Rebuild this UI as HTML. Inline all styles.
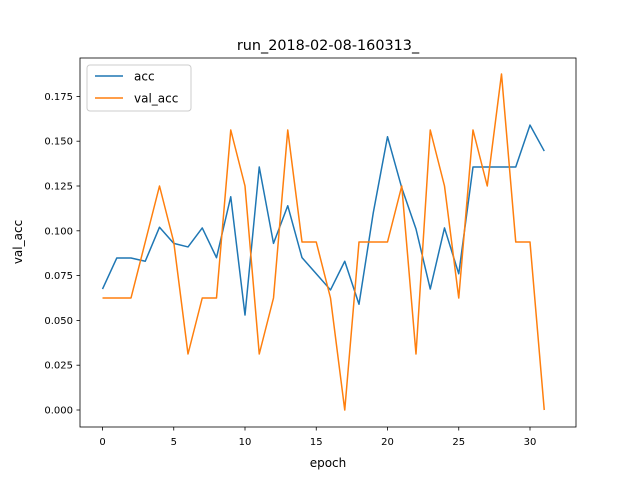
<!DOCTYPE html>
<html><head><meta charset="utf-8"><style>
body{margin:0;background:#fff;}
svg text{font-family:"DejaVu Sans","Liberation Sans",sans-serif;fill:#000;}
</style></head><body>
<svg id="chart" width="640" height="480" xmlns="http://www.w3.org/2000/svg">
<rect width="640" height="480" fill="#fff"/>
<text x="328" y="50" font-size="14.4" text-anchor="middle">run_2018-02-08-160313_</text>
<g id="plot"></g>
<rect x="80" y="58" width="496" height="369" fill="none" stroke="#000" stroke-width="0.8"/>
<text x="328" y="467" font-size="12" text-anchor="middle">epoch</text>
<text x="0" y="0" font-size="12" text-anchor="middle" transform="translate(22,242) rotate(-90)">val_acc</text>
<g>
<rect x="87" y="65" width="104" height="46" rx="3" fill="#fff" fill-opacity="0.8" stroke="#ccc" stroke-width="1"/>
<line x1="95" y1="76" x2="123" y2="76" stroke="#1f77b4" stroke-width="1.5"/>
<text x="134" y="80.5" font-size="12">acc</text>
<line x1="95" y1="98" x2="123" y2="98" stroke="#ff7f0e" stroke-width="1.5"/>
<text x="134" y="102.5" font-size="12">val_acc</text>
</g>
</svg>
<script>
const epochs=[];for(let i=0;i<32;i++)epochs.push(i);
const accValues=[0.0675,0.0848,0.0848,0.083,0.102,0.093,0.091,0.1016,0.085,0.119,0.053,0.1356,0.093,0.114,0.085,0.076,0.067,0.083,0.059,0.11,0.1525,0.124,0.101,0.0675,0.1016,0.076,0.1356,0.1356,0.1356,0.1356,0.159,0.1445];
const valAccValues=[0.0625,0.0625,0.0625,0.09375,0.125,0.09375,0.03125,0.0625,0.0625,0.15625,0.125,0.03125,0.0625,0.15625,0.09375,0.09375,0.0625,0,0.09375,0.09375,0.09375,0.125,0.03125,0.15625,0.125,0.0625,0.15625,0.125,0.1875,0.09375,0.09375,0];
const xTicks=[0,5,10,15,20,25,30];
const yTicks=[0,0.025,0.05,0.075,0.1,0.125,0.15,0.175];
const yTickLabels=["0.000","0.025","0.050","0.075","0.100","0.125","0.150","0.175"];
const NS="http://www.w3.org/2000/svg";
const xs=v=>102.5+v*14.25;
const ys=v=>410-v*1792;
const g=document.getElementById('plot');
function mk(t,a){const e=document.createElementNS(NS,t);for(const k in a)e.setAttribute(k,a[k]);g.appendChild(e);return e;}
xTicks.forEach(t=>{
 const l=mk('line',{x1:xs(t),x2:xs(t),y1:427,y2:430.5,stroke:'#000','stroke-width':0.8});
 
 
 const tx=mk('text',{x:xs(t),y:445,'font-size':10,'text-anchor':'middle'});tx.textContent=t;
 
 
});
yTicks.forEach((t,i)=>{
 const l=mk('line',{x1:76.5,x2:80,y1:ys(t),y2:ys(t),stroke:'#000','stroke-width':0.8});
 
 
 const tx=mk('text',{x:73,y:ys(t)+3.5,'font-size':10,'text-anchor':'end'});tx.textContent=yTickLabels[i];
 
 
});
function line(vals,color,name){
 const p=mk('polyline',{points:vals.map((v,i)=>xs(epochs[i])+','+ys(v)).join(' '),fill:'none',stroke:color,'stroke-width':1.5,'stroke-linejoin':'round'});
 
 
}
line(accValues,'#1f77b4','acc-line');
line(valAccValues,'#ff7f0e','val-acc-line');
</script>
</body></html>
